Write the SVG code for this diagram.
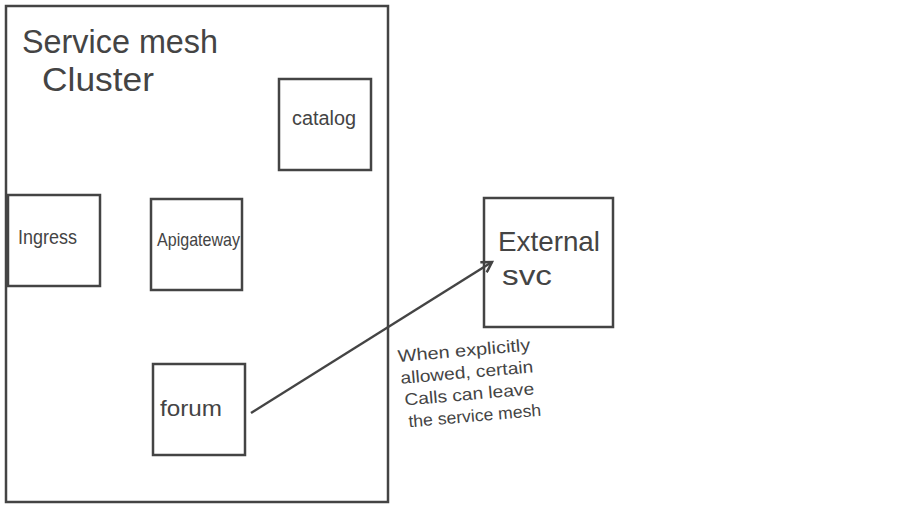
<svg xmlns="http://www.w3.org/2000/svg" width="902" height="509" viewBox="0 0 902 509">
<style>
.box{fill:#fff;stroke:#444;stroke-width:2.5}
.t{font-family:"Liberation Sans","DejaVu Sans",sans-serif;fill:#444}
.edge{stroke:#444;stroke-width:2.5;fill:none}
</style>
<defs>
<marker id="arr" markerWidth="14" markerHeight="14" refX="11" refY="7" orient="auto" markerUnits="userSpaceOnUse">
<path d="M1,1 L11,7 L1,13" fill="none" stroke="#444" stroke-width="2.5"/>
</marker>
</defs>
<rect width="902" height="509" fill="#fff"/>
<g id="cluster">
<rect class="box" x="6" y="6" width="382" height="496" fill="none"/>
<text class="t" x="22" y="53" font-size="33" textLength="196" lengthAdjust="spacingAndGlyphs">Service mesh</text>
<text class="t" x="42" y="91" font-size="33" textLength="112" lengthAdjust="spacingAndGlyphs">Cluster</text>
</g>
<g id="catalog">
<rect class="box" x="279" y="79" width="92" height="91"/>
<text class="t" x="292" y="125" font-size="20" textLength="64" lengthAdjust="spacingAndGlyphs">catalog</text>
</g>
<g id="ingress">
<rect class="box" x="8" y="195" width="92" height="91"/>
<text class="t" x="18" y="244" font-size="21" textLength="59" lengthAdjust="spacingAndGlyphs">Ingress</text>
</g>
<g id="apigateway">
<rect class="box" x="151" y="199" width="91" height="91"/>
<text class="t" x="157" y="246" font-size="19" textLength="83" lengthAdjust="spacingAndGlyphs">Apigateway</text>
</g>
<g id="forum">
<rect class="box" x="153" y="364" width="92" height="91"/>
<text class="t" x="160" y="416" font-size="22" textLength="62" lengthAdjust="spacingAndGlyphs">forum</text>
</g>
<g id="external">
<rect class="box" x="484" y="198" width="129" height="129"/>
<text class="t" x="498" y="251" font-size="28" textLength="102" lengthAdjust="spacingAndGlyphs">External</text>
<text class="t" x="502" y="285" font-size="28" textLength="50" lengthAdjust="spacingAndGlyphs">svc</text>
</g>
<g id="connectors">
<line class="edge" x1="251" y1="413" x2="492" y2="262" marker-end="url(#arr)"/>
<g transform="rotate(-5 398 360)">
<text class="t" x="398" y="362" font-size="17" textLength="133" lengthAdjust="spacingAndGlyphs">When explicitly</text>
<text class="t" x="399" y="384" font-size="17" textLength="133" lengthAdjust="spacingAndGlyphs">allowed, certain</text>
<text class="t" x="401" y="406" font-size="17" textLength="130" lengthAdjust="spacingAndGlyphs">Calls can leave</text>
<text class="t" x="403" y="428" font-size="17" textLength="133" lengthAdjust="spacingAndGlyphs">the service mesh</text>
</g>
</g>
</svg>
